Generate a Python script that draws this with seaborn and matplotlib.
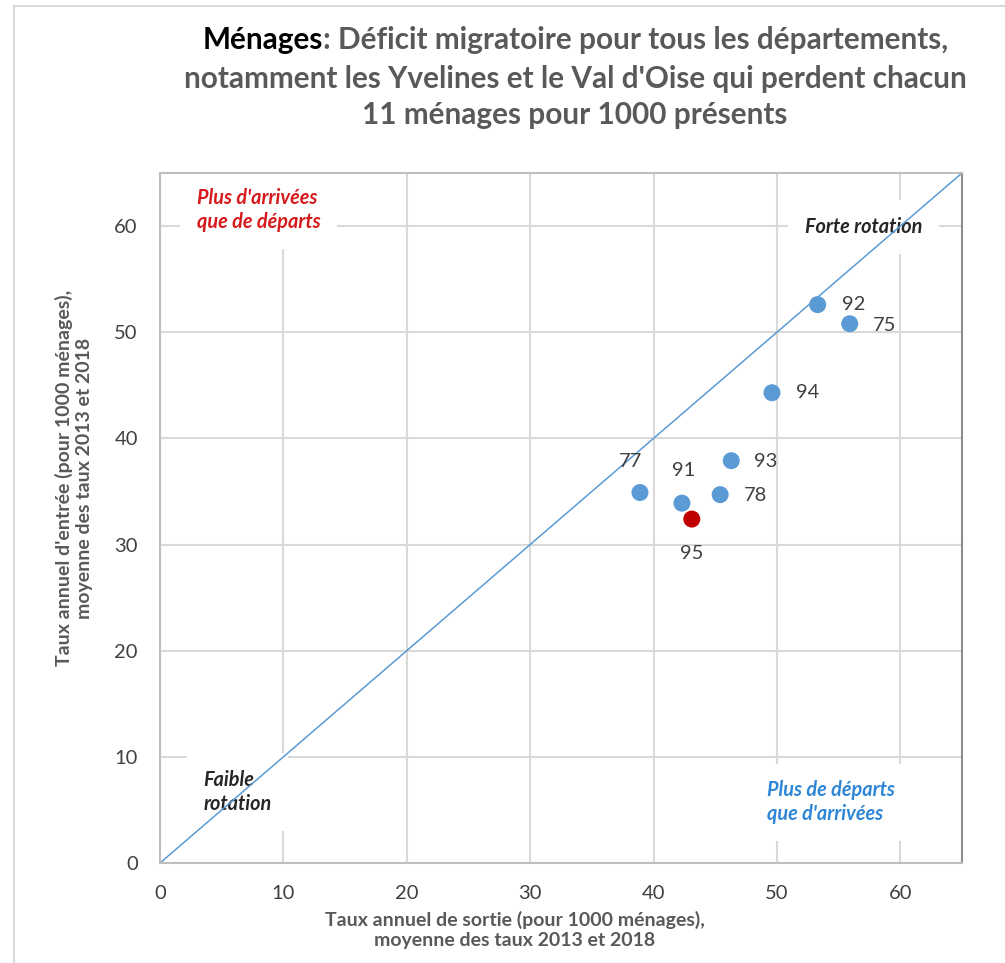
import pandas as pd
import matplotlib.pyplot as plt
import seaborn as sns
from matplotlib.patches import Rectangle

# departements: taux de sortie (x) / taux d'entree (y), pour 1000 menages
depts = ['92', '75', '94', '93', '78', '77', '91', '95']
sortie = [53.3, 55.9, 49.6, 46.3, 45.4, 38.9, 42.3, 43.1]
entree = [52.6, 50.8, 44.3, 37.9, 34.7, 34.9, 33.9, 32.4]
groupe = ['autre', 'autre', 'autre', 'autre', 'autre', 'autre', 'autre', '95']

# label offsets in pixels (dx, dy)
label_off = {'92': (36, 0), '75': (35, -2), '94': (36, 0), '93': (34, -1),
             '78': (35, -1), '77': (-9, 31), '91': (2, 33), '95': (0, -34)}

df = pd.DataFrame({'dept': depts, 'sortie': sortie, 'entree': entree, 'groupe': groupe})

sns.set_style('white')
plt.rcParams['font.family'] = ['Lato', 'DejaVu Sans']

fig = plt.figure(figsize=(10.05, 9.63), dpi=100)
ax = fig.add_axes([160 / 1005, 1 - 863 / 963, 802 / 1005, 690 / 963])

# outer chart frame
fig.patches.append(Rectangle((14 / 1005, -0.1), 1.2, 1.1 - 6 / 963, transform=fig.transFigure,
                             fill=False, edgecolor='#d9d9d9', linewidth=1.5, zorder=0))

diag = pd.DataFrame({'x': [0, 65], 'y': [0, 65]})
sns.lineplot(data=diag, x='x', y='y', color='#5b9bd5', linewidth=1.1, ax=ax, zorder=4)

sns.scatterplot(data=df, x='sortie', y='entree', hue='groupe',
                palette={'autre': '#5b9bd5', '95': '#c00000'}, s=150,
                edgecolor='none', legend=False, ax=ax, zorder=5)

for d, xv, yv in zip(depts, sortie, entree):
    dx, dy = label_off[d]
    ax.annotate(d, (xv, yv), xytext=(dx, dy), textcoords='offset pixels',
                ha='center', va='center', fontsize=14.5, color='#404040', zorder=6)

ax.set_xlim(0, 65)
ax.set_ylim(0, 65)
ax.set_xticks(range(0, 61, 10))
ax.set_yticks(range(0, 61, 10))
ax.grid(True, color='#d9d9d9', linewidth=1.5, zorder=0)
ax.set_axisbelow(True)
ax.tick_params(axis='both', length=0, labelsize=14.5, labelcolor='#404040', pad=16)
ax.set_xlabel('')
ax.set_ylabel('')
for side in ['left', 'bottom', 'top']:
    ax.spines[side].set_color('#bfbfbf')
    ax.spines[side].set_linewidth(1.5)
ax.spines['right'].set_color('#8c8c8c')
ax.spines['right'].set_linewidth(1.5)
for side in ax.spines:
    ax.spines[side].set_zorder(7)

# corner notes with white boxes hiding the grid
box = dict(facecolor='white', edgecolor='none', pad=12)
note = dict(fontsize=14.3, fontweight='bold', style='italic', va='center', linespacing=1.25,
            bbox=box, zorder=3)
ax.text(3.0, 61.5, "Plus d'arrivées\nque de départs", color='#d7191c', ha='left', **note)
ax.text(61.8, 59.9, "Forte rotation", color='#262626', ha='right', **note)
ax.text(3.5, 6.7, "Faible\nrotation", color='#262626', ha='left', **note)
ax.text(49.2, 5.7, "Plus de départs\nque d'arrivées", color='#2e86d6', ha='left', **note)

# axis titles
fig.text(515 / 1005, 1 - 930 / 963, "Taux annuel de sortie (pour 1000 ménages),\nmoyenne des taux 2013 et 2018",
         ha='center', va='center', fontsize=14, fontweight='bold', color='#595959', linespacing=1.2)
fig.text(74 / 1005, 1 - 478 / 963, "Taux annuel d'entrée (pour 1000 ménages),\nmoyenne des taux 2013 et 2018",
         ha='center', va='center', rotation=90, fontsize=14, fontweight='bold', color='#595959', linespacing=1.15)

# title: first word black, rest gray
fig.canvas.draw()
r = fig.canvas.get_renderer()
part1 = "Ménages"
part2 = ": Déficit migratoire pour tous les départements,"
tsize = 21.4
t1 = fig.text(0, 1 - 40 / 963, part1, fontsize=tsize, fontweight='bold', color='black', va='center')
t2 = fig.text(0, 1 - 40 / 963, part2, fontsize=tsize, fontweight='bold', color='#595959', va='center')
w1 = t1.get_window_extent(r).width
w2 = t2.get_window_extent(r).width
x0 = 575 - (w1 + w2) / 2
t1.set_x(x0 / 1005)
t2.set_x((x0 + w1) / 1005)
fig.text(575 / 1005, 1 - 79 / 963, "notamment les Yvelines et le Val d'Oise qui perdent chacun",
         fontsize=tsize, fontweight='bold', color='#595959', ha='center', va='center')
fig.text(575 / 1005, 1 - 115 / 963, "11 ménages pour 1000 présents",
         fontsize=tsize, fontweight='bold', color='#595959', ha='center', va='center')

fig.savefig('out.png', dpi=100)
